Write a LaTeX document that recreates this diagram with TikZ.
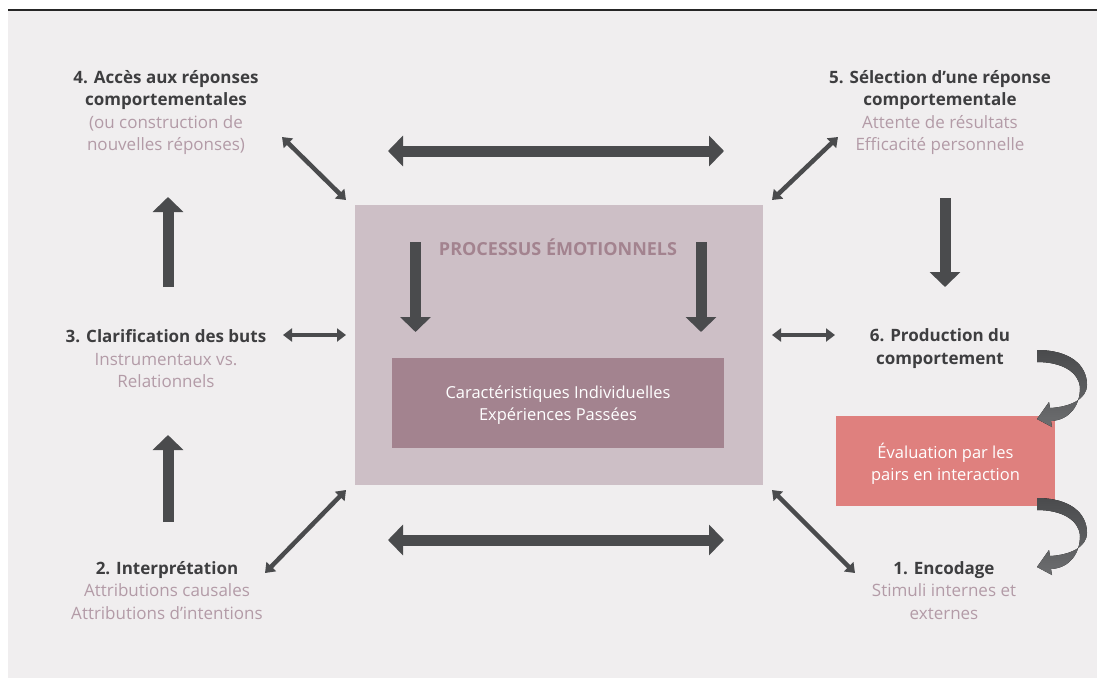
\documentclass[tikz,border=0pt]{standalone}
\usepackage{fontspec}
\setmainfont{Open Sans}
\usepackage{xcolor}
\usetikzlibrary{arrows.meta,positioning,shapes,calc}

\definecolor{panel}{HTML}{F0EEEF}
\definecolor{arrowgrey}{HTML}{4A4B4D}
\definecolor{swooshgrey}{HTML}{6C6D6F}
\definecolor{emofill}{HTML}{CDBFC6}
\definecolor{mauve}{HTML}{A3838F}
\definecolor{softmauve}{HTML}{B39BA7}
\definecolor{peer}{HTML}{DF807E}
\definecolor{ink}{HTML}{3E3E40}

\begin{document}
\begin{tikzpicture}[x=1pt, y=-1pt,
  stage/.style={align=center, inner sep=0pt, text=ink, font=\fontsize{17}{22.5}\selectfont},
  box/.style={inner sep=0pt, align=center, text=white, font=\fontsize{16.5}{22}\selectfont},
  bigarrow/.style={draw=arrowgrey, line width=11pt, -{Triangle[width=30pt,length=15pt]}},
  biglink/.style={draw=arrowgrey, line width=11pt, {Triangle[width=30pt,length=15pt]}-{Triangle[width=30pt,length=15pt]}},
  link/.style={draw=arrowgrey, line width=4.5pt, {Triangle[width=13pt,length=9pt]}-{Triangle[width=13pt,length=9pt]}},
  swoosh/.style={top color=arrowgrey, bottom color=swooshgrey}
]
\useasboundingbox (0,0) rectangle (1097,678);
\fill[panel] (8,11) rectangle (1097,678);
\draw[line width=1.5pt, black!85] (8,10) -- (1097,10);

% centre block
\node [fill=emofill, minimum width=408pt, minimum height=280pt] (emo) at (559,345) {};
\node [font=\fontsize{18}{20}\selectfont\bfseries, text=mauve] (emotitle) at (558,247) {PROCESSUS ÉMOTIONNELS};
\node [box, fill=mauve, minimum width=332pt, minimum height=90pt] (indiv) at (558,403) {};
\node [box] at (558,405) {Caractéristiques Individuelles\\Expériences Passées};

% peer box on the right
\node [box, fill=peer, minimum width=219pt, minimum height=90pt] (peers) at (945.5,461) {};
\node [box] at (945.5,464) {Évaluation par les\\pairs en interaction};

% the six steps
\node [stage] (s4) at (166,112.5) {\textbf{4. Accès aux réponses}\\\textbf{comportementales}\\
  \textcolor{softmauve}{(ou construction de}\\\textcolor{softmauve}{nouvelles réponses)}};
\node [stage] (s5) at (940,112.5) {\textbf{5. Sélection d’une réponse}\\\textbf{comportementale}\\
  \textcolor{softmauve}{Attente de résultats}\\\textcolor{softmauve}{Efficacité personnelle}};
\node [stage] (s3) at (166,359) {\textbf{3. Clarification des buts}\\
  \textcolor{softmauve}{Instrumentaux vs.}\\\textcolor{softmauve}{Relationnels}};
\node [stage] (s6) at (940,348.5) {\textbf{6. Production du}\\\textbf{comportement}};
\node [stage] (s2) at (167,590.5) {\textbf{2. Interprétation}\\
  \textcolor{softmauve}{Attributions causales}\\\textcolor{softmauve}{Attributions d’intentions}};
\node [stage] (s1) at (944,590.5) {\textbf{1. Encodage}\\
  \textcolor{softmauve}{Stimuli internes et}\\\textcolor{softmauve}{externes}};

% arrow ends
\coordinate (topL) at (388,151);  \coordinate (topR) at (724,151);
\coordinate (botL) at (388,540);  \coordinate (botR) at (724,540);
\coordinate (up3) at (168,287);   \coordinate (up4) at (168,197);
\coordinate (up1) at (168,522);   \coordinate (up2) at (168,435);
\coordinate (dn5) at (945,198);   \coordinate (dn6) at (945,287);
\coordinate (inL) at (415.5,242); \coordinate (inLe) at (415.5,332);
\coordinate (inR) at (701,242);   \coordinate (inRe) at (701,332);
\coordinate (d4a) at (282,137);   \coordinate (d4b) at (346,200);
\coordinate (d5a) at (838,137);   \coordinate (d5b) at (772,200);
\coordinate (d2a) at (265,573);   \coordinate (d2b) at (346,490);
\coordinate (d1a) at (855,573);   \coordinate (d1b) at (772,490);
\coordinate (h3a) at (283,335);   \coordinate (h3b) at (346,335);
\coordinate (h6a) at (772,335);   \coordinate (h6b) at (835,335);

\draw [biglink] (topL) -- (topR);
\draw [biglink] (botL) -- (botR);
\draw [bigarrow] (up3) -- (up4);
\draw [bigarrow] (up1) -- (up2);
\draw [bigarrow] (dn5) -- (dn6);
\draw [bigarrow] (inL) -- (inLe);
\draw [bigarrow] (inR) -- (inRe);

\draw [link] (d4a) -- (d4b);
\draw [link] (d5a) -- (d5b);
\draw [link] (d2a) -- (d2b);
\draw [link] (d1a) -- (d1b);
\draw [link] (h3a) -- (h3b);
\draw [link] (h6a) -- (h6b);

% curled arrows 6 -> peers -> 1
\foreach \dy in {0,148} {
  \fill [swoosh, shift={(0,\dy)}] (1037,350) .. controls (1070,350) and (1087,365) .. (1087,385)
    .. controls (1087,399) and (1070,407) .. (1050,408) -- (1049,402) -- (1037,419) -- (1052,427)
    -- (1051,421) .. controls (1070,420) and (1080,405) .. (1080,388)
    .. controls (1079,372) and (1062,362) .. (1037,362) -- cycle;
}
\end{tikzpicture}
\end{document}
